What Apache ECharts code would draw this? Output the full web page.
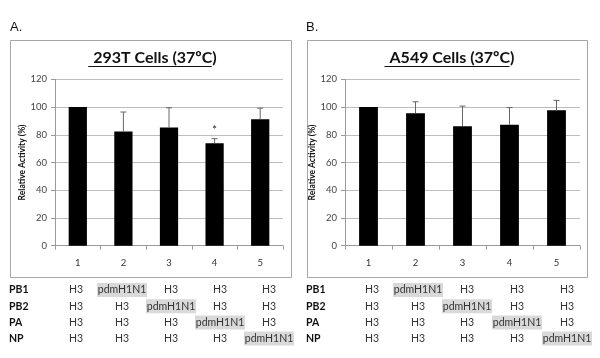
<!DOCTYPE html>
<html>
<head>
<meta charset="utf-8">
<script src="https://cdn.jsdelivr.net/npm/echarts@6/dist/echarts.min.js"></script>
<style>html,body{margin:0;padding:0;background:#fff;}#chart{width:600px;height:358px;}</style>
</head>
<body>
<div id="chart"></div>
<script>
var categories = ['1', '2', '3', '4', '5'];
var valuesA = [100, 82.4, 85.2, 73.8, 91.2];
var errorsA = [0, 14.0, 14.3, 3.4, 8.0];
var annotA = ['', '', '', '*', ''];
var valuesB = [100, 95.5, 86.2, 87.3, 97.6];
var errorsB = [0, 8.3, 14.5, 12.3, 7.2];
var annotB = ['', '', '', '', ''];
var titleA = '293T Cells (37ºC)';
var titleB = 'A549 Cells (37ºC)';
var yTicks = [0, 20, 40, 60, 80, 100, 120];
var yName = 'Relative Activity (%)';
var rowLabels = ['PB1', 'PB2', 'PA', 'NP'];
var tableCells = [
  ['H3', 'pdmH1N1', 'H3', 'H3', 'H3'],
  ['H3', 'H3', 'pdmH1N1', 'H3', 'H3'],
  ['H3', 'H3', 'H3', 'pdmH1N1', 'H3'],
  ['H3', 'H3', 'H3', 'H3', 'pdmH1N1']
];
var highlight = 'pdmH1N1';

var FONT = 'Lato, "Liberation Sans", sans-serif';
var TITLE_SIZE = 16;

function yAxis(idx) {
  return {
    type: 'value', gridIndex: idx, min: yTicks[0], max: yTicks[yTicks.length - 1], interval: 20,
    name: yName, nameLocation: 'middle', nameGap: 28,
    nameTextStyle: { fontFamily: FONT, fontSize: 8.5, fontWeight: 'bold', color: '#111' },
    axisLine: { show: true, lineStyle: { color: '#9a9a9a', width: 1 } },
    axisTick: { show: true, length: 4, lineStyle: { color: '#9a9a9a' } },
    axisLabel: { fontFamily: FONT, fontSize: 9.5, color: '#444', margin: 8 },
    splitLine: { show: true, lineStyle: { color: '#bdbdbd', width: 1 } }
  };
}
function xAxis(idx) {
  return {
    type: 'category', gridIndex: idx, data: categories, boundaryGap: true,
    axisLine: { show: true, lineStyle: { color: '#9a9a9a', width: 1 } },
    axisTick: { show: true, length: 4, alignWithLabel: false, lineStyle: { color: '#9a9a9a' } },
    axisLabel: { fontFamily: FONT, fontSize: 9.5, color: '#333', margin: 12 },
    splitLine: { show: false }
  };
}
function errSeries(idx, vals, errs, annots) {
  return {
    type: 'custom', xAxisIndex: idx, yAxisIndex: idx, z: 5,
    data: vals.map(function (v, i) { return [i, v, errs[i], annots[i]]; }),
    renderItem: function (params, api) {
      var i = api.value(0), v = api.value(1), e = api.value(2);
      var p0 = api.coord([i, v]);
      var p1 = api.coord([i, v + e]);
      var children = [];
      if (e > 0) {
        children.push({ type: 'line', shape: { x1: p0[0], y1: p0[1], x2: p1[0], y2: p1[1] }, style: { stroke: '#666', lineWidth: 1 } });
        children.push({ type: 'line', shape: { x1: p1[0] - 3, y1: p1[1], x2: p1[0] + 3, y2: p1[1] }, style: { stroke: '#666', lineWidth: 1 } });
      }
      var a = annots[i];
      if (a) {
        children.push({ type: 'text', style: { text: a, x: p1[0], y: p1[1] - 8, align: 'center', verticalAlign: 'middle', fontSize: 11, fontFamily: FONT, fill: '#222' } });
      }
      return { type: 'group', children: children };
    }
  };
}

var measureCtx = document.createElement('canvas').getContext('2d');
function textWidth(t, size) {
  measureCtx.font = 'bold ' + size + 'px ' + FONT;
  return measureCtx.measureText(t).width;
}

// table graphic
var colXA = [76, 122, 171, 220, 269];
var colXB = [372, 418, 467, 517, 567];
var rowY = [290, 306.3, 322.6, 338.6];
var titleCX = [150, 447];
var graphics = [];
function frame(x, y, w, h) {
  graphics.push({ type: 'rect', shape: { x: x, y: y, width: w, height: h }, style: { fill: 'none', stroke: '#a6a6a6', lineWidth: 1 }, silent: true });
}
frame(10.5, 40.5, 281, 237);
frame(307.5, 40.5, 280, 237);
graphics.push({ type: 'text', left: 10, top: 21, style: { text: 'A.', fontSize: 13, fontFamily: '"Liberation Sans", Arial, sans-serif', fill: '#111' } });
graphics.push({ type: 'text', left: 306, top: 21, style: { text: 'B.', fontSize: 13, fontFamily: '"Liberation Sans", Arial, sans-serif', fill: '#111' } });
[titleA, titleB].forEach(function (t, k) {
  var w = textWidth(t, TITLE_SIZE);
  graphics.push({ type: 'line', shape: { x1: titleCX[k] - w / 2, y1: 66.5, x2: titleCX[k] + w / 2, y2: 66.5 }, style: { stroke: '#111', lineWidth: 1 } });
});
function table(labelX, cols) {
  rowLabels.forEach(function (lab, r) {
    graphics.push({ type: 'text', x: labelX, y: rowY[r], style: { text: lab, fontSize: 10.5, fontWeight: 'bold', fontFamily: FONT, fill: '#111', verticalAlign: 'middle', align: 'left' } });
    tableCells[r].forEach(function (cell, c) {
      if (cell === highlight) {
        graphics.push({ type: 'rect', shape: { x: cols[c] - 25, y: rowY[r] - 7, width: 50, height: 14 }, style: { fill: '#d9d9d9' } });
      }
      graphics.push({ type: 'text', x: cols[c], y: rowY[r], style: { text: cell, fontSize: 10.5, fontFamily: FONT, fill: '#333', verticalAlign: 'middle', align: 'center' } });
    });
  });
}
table(9, colXA);
table(306, colXB);

var chart = echarts.init(document.getElementById('chart'), null, { renderer: 'canvas' });
chart.setOption({
  animation: false,
  backgroundColor: '#fff',
  title: [
    { text: titleA, left: titleCX[0], top: 45, textAlign: 'center', textStyle: { fontFamily: FONT, fontSize: TITLE_SIZE, fontWeight: 'bold', color: '#111' } },
    { text: titleB, left: titleCX[1], top: 45, textAlign: 'center', textStyle: { fontFamily: FONT, fontSize: TITLE_SIZE, fontWeight: 'bold', color: '#111' } }
  ],
  grid: [
    { left: 55, right: 317, top: 79.3, bottom: 112.3 },
    { left: 345, right: 20, top: 79.3, bottom: 112.3 }
  ],
  xAxis: [xAxis(0), xAxis(1)],
  yAxis: [yAxis(0), yAxis(1)],
  series: [
    { type: 'bar', xAxisIndex: 0, yAxisIndex: 0, data: valuesA, barWidth: '40%', itemStyle: { color: '#000' } },
    errSeries(0, valuesA, errorsA, annotA),
    { type: 'bar', xAxisIndex: 1, yAxisIndex: 1, data: valuesB, barWidth: '40%', itemStyle: { color: '#000' } },
    errSeries(1, valuesB, errorsB, annotB)
  ],
  graphic: graphics
});
</script>
</body>
</html>
